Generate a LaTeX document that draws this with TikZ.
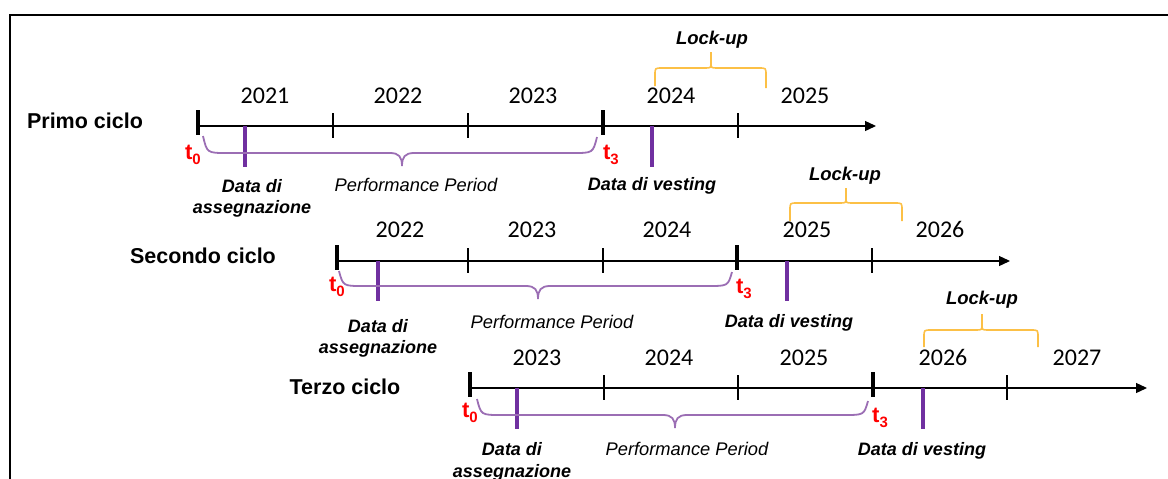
\documentclass[tikz,border=0pt]{standalone}
\usepackage{fontspec}
\setmainfont{Liberation Sans}
\newfontfamily\yearfont{Carlito}
\usetikzlibrary{arrows.meta}
\definecolor{tickpurple}{RGB}{112,48,160}
\definecolor{bracepurple}{RGB}{155,110,180}
\definecolor{lockyellow}{RGB}{252,192,70}
\tikzset{
  axisline/.style={line width=1.3pt,-{Triangle[length=11pt,width=10pt]}},
  thintick/.style={line width=1.1pt},
  thicktick/.style={line width=4pt},
  purptick/.style={line width=3.2pt,draw=tickpurple},
  pbrace/.style={line width=1.8pt,draw=bracepurple},
  lbrace/.style={line width=1.6pt,draw=lockyellow},
  yearlab/.style={anchor=base,inner sep=0pt,font=\yearfont\fontsize{24}{28}\selectfont},
  cyclab/.style={anchor=base,inner sep=0pt,font=\bfseries\fontsize{21.5}{26}\selectfont},
  datelab/.style={anchor=base,inner sep=0pt,font=\bfseries\itshape\fontsize{18}{22}\selectfont},
  perflab/.style={anchor=base,inner sep=0pt,font=\itshape\fontsize{18.3}{22}\selectfont},
  locklab/.style={anchor=base,inner sep=0pt,font=\bfseries\itshape\fontsize{18.5}{22}\selectfont},
  tlab/.style={inner sep=0pt,text=red,font=\bfseries\fontsize{22}{26}\selectfont},
}
\newcommand{\tsub}[1]{t\raisebox{-0.25em}{\fontsize{15}{15}\selectfont #1}}
% purple brace
\newcommand{\perfbrace}[7]{%
  \draw[pbrace] (#1,#2) .. controls (#1+4,#3) .. (#1+24,#3) -- (#4-12,#3)
     .. controls (#4-3,#3) and (#4,#3+4) .. (#4,#5)
     .. controls (#4,#3+4) and (#4+3,#3) .. (#4+12,#3) -- (#6-24,#3)
     .. controls (#6-4,#3) .. (#6,#7);}
% lock-up brace
\newcommand{\lockbrace}[7]{%
  \draw[lbrace] (#1,#2) -- (#1,#3+7) .. controls (#1,#3) .. (#1+7,#3) -- (#4-6,#3)
     .. controls (#4,#3) .. (#4,#3-6) -- (#4,#5) -- (#4,#3-6)
     .. controls (#4,#3) .. (#4+6,#3) -- (#6-7,#3) .. controls (#6,#3) .. (#6,#3+7) -- (#6,#7);}
\begin{document}
\begin{tikzpicture}[x=1pt,y=-1pt]
\useasboundingbox (0,0) rectangle (1168,479);
% frame
\draw[line width=2pt] (10,479) -- (10,15) -- (1168,15);

% ---------------- Primo ciclo ----------------
\coordinate (a1) at (198,126); \coordinate (b1) at (876,126);
\draw[axisline] (a1) -- (b1);
\foreach \x in {333,468,738} \draw[thintick] (\x,113) -- (\x,138);
\draw[thicktick] (198,110) -- (198,135);
\draw[thicktick] (603,110) -- (603,135);
\draw[purptick] (245,126) -- (245,167);
\draw[purptick] (652,126) -- (652,167);
\node[cyclab] (c1) at (85,128) {Primo ciclo};
\node[yearlab] (y11) at (265,103) {2021};
\node[yearlab] (y12) at (398,103) {2022};
\node[yearlab] (y13) at (533,103) {2023};
\node[yearlab] (y14) at (671,103) {2024};
\node[yearlab] (y15) at (805,103) {2025};
\node[tlab] (t01) at (193,155) {\tsub{0}};
\node[tlab] (t31) at (611,155) {\tsub{3}};
\perfbrace{203}{136}{153}{402}{166}{597}{137}
\node[datelab] (d11) at (252,192) {Data di};
\node[datelab] (d12) at (252,213) {assegnazione};
\node[perflab] (p1) at (416,191) {Performance Period};
\node[datelab] (v1) at (652,190) {Data di vesting};
\lockbrace{655}{86}{68}{711}{52}{766}{88}
\node[locklab] (l1) at (712,44) {Lock-up};

% ---------------- Secondo ciclo ----------------
\coordinate (a2) at (337,261); \coordinate (b2) at (1010,261);
\draw[axisline] (a2) -- (b2);
\foreach \x in {468,603,872} \draw[thintick] (\x,248) -- (\x,273);
\draw[thicktick] (337,245) -- (337,270);
\draw[thicktick] (737,245) -- (737,270);
\draw[purptick] (378,261) -- (378,301);
\draw[purptick] (787,261) -- (787,301);
\node[cyclab] (c2) at (203,263) {Secondo ciclo};
\node[yearlab] (y21) at (400,237) {2022};
\node[yearlab] (y22) at (532,237) {2023};
\node[yearlab] (y23) at (667,237) {2024};
\node[yearlab] (y24) at (807,237) {2025};
\node[yearlab] (y25) at (940,237) {2026};
\node[tlab] (t02) at (337,287) {\tsub{0}};
\node[tlab] (t32) at (744,289) {\tsub{3}};
\perfbrace{339}{271}{286}{538}{299}{732}{272}
\node[datelab] (d21) at (378,332) {Data di};
\node[datelab] (d22) at (378,353) {assegnazione};
\node[perflab] (p2) at (552,328) {Performance Period};
\node[datelab] (v2) at (789,327) {Data di vesting};
\lockbrace{790}{221}{203}{846}{188}{902}{221}
\node[locklab] (l2) at (845,180) {Lock-up};

% ---------------- Terzo ciclo ----------------
\coordinate (a3) at (470,388); \coordinate (b3) at (1147,388);
\draw[axisline] (a3) -- (b3);
\foreach \x in {604,738,1007} \draw[thintick] (\x,375) -- (\x,400);
\draw[thicktick] (470,372) -- (470,397);
\draw[thicktick] (873,372) -- (873,397);
\draw[purptick] (517,388) -- (517,429);
\draw[purptick] (923,388) -- (923,429);
\node[cyclab] (c3) at (345,394) {Terzo ciclo};
\node[yearlab] (y31) at (537,365) {2023};
\node[yearlab] (y32) at (669,365) {2024};
\node[yearlab] (y33) at (804,365) {2025};
\node[yearlab] (y34) at (943,365) {2026};
\node[yearlab] (y35) at (1077,365) {2027};
\node[tlab] (t03) at (470,413) {\tsub{0}};
\node[tlab] (t33) at (880,418) {\tsub{3}};
\perfbrace{477}{399}{415}{675}{428}{868}{401}
\node[datelab] (d31) at (512,455) {Data di};
\node[datelab] (d32) at (512,477) {assegnazione};
\node[perflab] (p3) at (687,455) {Performance Period};
\node[datelab] (v3) at (922,455) {Data di vesting};
\lockbrace{924}{347}{330}{982}{314}{1038}{347}
\node[locklab] (l3) at (982,304) {Lock-up};
\end{tikzpicture}
\end{document}
